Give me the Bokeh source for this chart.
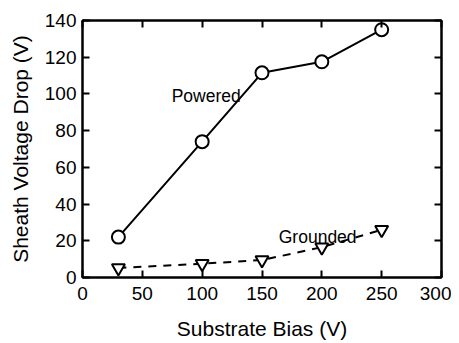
from bokeh.plotting import figure
from bokeh.models import Range1d, LinearAxis, FixedTicker, Label
from bokeh.embed import file_html
from bokeh.resources import INLINE

bias_powered = [30, 100, 150, 200, 250]
drop_powered = [22, 74, 111.5, 117.5, 135]
bias_grounded = [30, 100, 150, 200, 250]
drop_grounded = [5.2, 7.5, 9.5, 16.5, 26]
x_ticks = [0, 50, 100, 150, 200, 250, 300]
y_ticks = [0, 20, 40, 60, 80, 100, 120, 140]

FONT = "Liberation Sans"

p = figure(width=451, height=342, output_backend="svg", toolbar_location=None,
           x_range=Range1d(0, 300), y_range=Range1d(0, 140))
p.min_border_left = 82
p.min_border_right = 10
p.min_border_top = 20
p.min_border_bottom = 65
p.xgrid.visible = False
p.ygrid.visible = False
p.outline_line_color = "black"
p.outline_line_width = 2
p.background_fill_color = "white"
p.border_fill_color = "white"

for ax in (p.xaxis[0], p.yaxis[0]):
    ax.major_tick_in = 7
    ax.major_tick_out = 0
    ax.minor_tick_line_color = None
    ax.axis_line_width = 2
    ax.major_tick_line_width = 2
    ax.major_label_text_font = FONT
    ax.major_label_text_font_size = "19px"
    ax.major_label_text_color = "black"
    ax.axis_label_text_font = FONT
    ax.axis_label_text_font_size = "21px"
    ax.axis_label_text_font_style = "normal"
    ax.axis_label_text_color = "black"

p.xaxis[0].ticker = FixedTicker(ticks=x_ticks)
p.yaxis[0].ticker = FixedTicker(ticks=y_ticks)
p.xaxis[0].axis_label = "Substrate Bias (V)"
p.yaxis[0].axis_label = "Sheath Voltage Drop (V)"
p.xaxis[0].major_label_standoff = 9
p.yaxis[0].major_label_standoff = 6
p.xaxis[0].axis_label_standoff = 14
p.yaxis[0].axis_label_standoff = 10

for loc, ticks in (("above", x_ticks), ("right", y_ticks)):
    ax = LinearAxis(ticker=FixedTicker(ticks=ticks))
    ax.major_tick_in = 7
    ax.major_tick_out = 0
    ax.minor_tick_line_color = None
    ax.major_label_text_font_size = "0px"
    ax.major_label_text_color = None
    ax.axis_line_width = 2
    ax.major_tick_line_width = 2
    ax.major_label_standoff = 0
    p.add_layout(ax, loc)

p.line(bias_powered, drop_powered, line_color="black", line_width=2)
p.scatter(bias_powered, drop_powered, marker="circle", size=13,
          fill_color="white", line_color="black", line_width=2)

p.line(bias_grounded, drop_grounded, line_color="black", line_width=2, line_dash="8 7")
p.scatter(bias_grounded, drop_grounded, marker="inverted_triangle", size=13,
          fill_color="white", line_color="black", line_width=2)

p.add_layout(Label(x=74.5, y=98.6, text="Powered", text_font=FONT, text_font_size="17.5px",
                   text_baseline="alphabetic", text_align="left", text_color="black"))
p.add_layout(Label(x=164, y=22.3, text="Grounded", text_font=FONT, text_font_size="17.5px",
                   text_baseline="alphabetic", text_align="left", text_color="black"))

open("out.html", "w").write(file_html(p, INLINE))
